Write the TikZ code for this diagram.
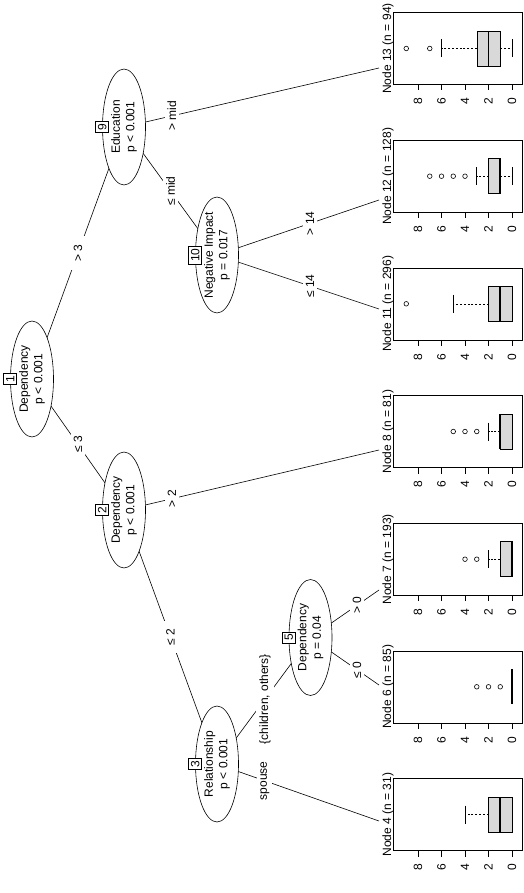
\documentclass[tikz,border=0pt]{standalone}
\usepackage{fontspec}
\setmainfont{Liberation Sans}
\usetikzlibrary{shapes.geometric}
\pgfdeclarelayer{bg}
\pgfsetlayers{bg,main}
\definecolor{boxgray}{HTML}{D9D9D9}
\newcommand{\vx}[1]{512-11.75*#1}
\newcommand{\tpanel}[3]{%
  \node[draw, line width=0.6pt, minimum width=129pt, minimum height=72pt, inner sep=0pt] (#2) at (457.5,#1) {};
  \foreach \v in {0,2,4,6,8} {
    \draw[line width=0.6pt] ({\vx{\v}},{#1+36}) -- ++(0,6);
    \node[rotate=90, inner sep=0pt] at ({\vx{\v}},{#1+53}) {\v};
  }
  \node[rotate=90, anchor=base, inner sep=0pt] (#2lab) at (391,#1) {#3};
}
\newcommand{\bbox}[4]{%
  \draw[fill=boxgray, line width=0.5pt] ({\vx{#2}},{#1-17.5}) rectangle ({\vx{#4}},{#1+17.5});
  \draw[line width=1.6pt] ({\vx{#3}},{#1-17.5}) -- ({\vx{#3}},{#1+17.5});
}
\newcommand{\bwhisk}[3]{%
  \draw[line width=0.6pt, dash pattern=on 2pt off 1.8pt] ({\vx{#2}},#1) -- ({\vx{#3}},#1);
  \draw[line width=0.6pt] ({\vx{#3}},{#1-9}) -- ({\vx{#3}},{#1+9});
}
\newcommand{\bout}[2]{%
  \draw[line width=0.6pt] ({\vx{#2}},#1) circle (2.3pt);
}
\begin{document}
\begin{tikzpicture}[x=1pt,y=-1pt,
  every node/.style={font=\fontsize{12}{14.4}\selectfont},
  inner/.style={ellipse, draw, fill=white, line width=0.6pt, minimum width=116pt, minimum height=43pt, inner sep=0pt, rotate=90},
  ntext/.style={rotate=90, align=center, inner sep=0pt},
  numbox/.style={draw, fill=white, rotate=90, inner sep=2.3pt, line width=0.6pt},
  elabel/.style={fill=white, rotate=90, inner xsep=8pt, inner ysep=3pt},
  edge/.style={line width=0.6pt}]
\useasboundingbox (0,0) rectangle (523,893);

% terminal anchors
\coordinate (t13) at (379,68);
\coordinate (t12) at (379,200);
\coordinate (t11) at (379,309);
\coordinate (t8) at (379,450);
\coordinate (t7) at (379,590);
\coordinate (t6) at (379,685);
\coordinate (t4) at (379,821);

% inner nodes
\node[inner] (n1) at (32,379) {};
\node[ntext] (n1t) at (n1.center) {Dependency\\p < 0.001};
\node[numbox] (n1n) at (n1.north) {1};

\node[inner] (n2) at (124,510) {};
\node[ntext] (n2t) at (n2.center) {Dependency\\p < 0.001};
\node[numbox] (n2n) at (n2.north) {2};

\node[inner] (n3) at (217,764) {};
\node[ntext] (n3t) at (n3.center) {Relationship\\p < 0.001};
\node[numbox] (n3n) at (n3.north) {3};

\node[inner] (n5) at (310.5,637.5) {};
\node[ntext] (n5t) at (n5.center) {Dependency\\p = 0.04};
\node[numbox] (n5n) at (n5.north) {5};

\node[inner] (n9) at (124,127) {};
\node[ntext] (n9t) at (n9.center) {Education\\p < 0.001};
\node[numbox] (n9n) at (n9.north) {9};

\node[inner] (n10) at (217,255) {};
\node[ntext] (n10t) at (n10.center) {Negative Impact\\p = 0.017};
\node[numbox] (n10n) at (n10.north) {10};

% edges
\begin{pgfonlayer}{bg}
\draw[edge] (n1.center) -- (n9.center) node[elabel, pos=0.5] {> 3};
\draw[edge] (n1.center) -- (n2.center) node[elabel, pos=0.5] {≤ 3};
\draw[edge] (n2.center) -- (n3.center) node[elabel, pos=0.5] {≤ 2};
\draw[edge] (n2.center) -- (t8) node[elabel, pos=0.188] {> 2};
\draw[edge] (n9.center) -- (n10.center) node[elabel, pos=0.5] {≤ mid};
\draw[edge] (n9.center) -- (t13) node[elabel, pos=0.188] {> mid};
\draw[edge] (n3.center) -- (t4) node[elabel, pos=0.296] {spouse};
\draw[edge] (n3.center) -- (n5.center) node[elabel, pos=0.513] {\{children, others\}};
\draw[edge] (n5.center) -- (t7) node[elabel, pos=0.679] {> 0};
\draw[edge] (n5.center) -- (t6) node[elabel, pos=0.679] {≤ 0};
\draw[edge] (n10.center) -- (t12) node[elabel, pos=0.574] {> 14};
\draw[edge] (n10.center) -- (t11) node[elabel, pos=0.574] {≤ 14};
\end{pgfonlayer}

% terminal panels
\tpanel{48.5}{p13}{Node 13 (n = 94)}
\bwhisk{48.5}{3}{6}\bwhisk{48.5}{1}{0}
\bbox{48.5}{1}{2}{3}
\bout{48.5}{7}\bout{48.5}{9}

\tpanel{176.2}{p12}{Node 12 (n = 128)}
\bwhisk{176.2}{2}{3}\bwhisk{176.2}{1}{0}
\bbox{176.2}{1}{1}{2}
\bout{176.2}{4}\bout{176.2}{5}\bout{176.2}{6}\bout{176.2}{7}

\tpanel{303.8}{p11}{Node 11 (n = 296)}
\bwhisk{303.8}{2}{5}
\bbox{303.8}{0}{1}{2}
\bout{303.8}{9}

\tpanel{431.5}{p8}{Node 8 (n = 81)}
\bwhisk{431.5}{1}{2}
\bbox{431.5}{0}{1}{1}
\bout{431.5}{3}\bout{431.5}{4}\bout{431.5}{5}

\tpanel{559.2}{p7}{Node 7 (n = 193)}
\bwhisk{559.2}{1}{2}
\bbox{559.2}{0}{0}{1}
\bout{559.2}{3}\bout{559.2}{4}

\tpanel{686.8}{p6}{Node 6 (n = 85)}
\draw[line width=1.6pt] ({\vx{0}},{686.8-17.5}) -- ({\vx{0}},{686.8+17.5});
\bout{686.8}{1}\bout{686.8}{2}\bout{686.8}{3}

\tpanel{814.5}{p4}{Node 4 (n = 31)}
\bwhisk{814.5}{2}{4}
\bbox{814.5}{0}{1}{2}
\end{tikzpicture}
\end{document}
